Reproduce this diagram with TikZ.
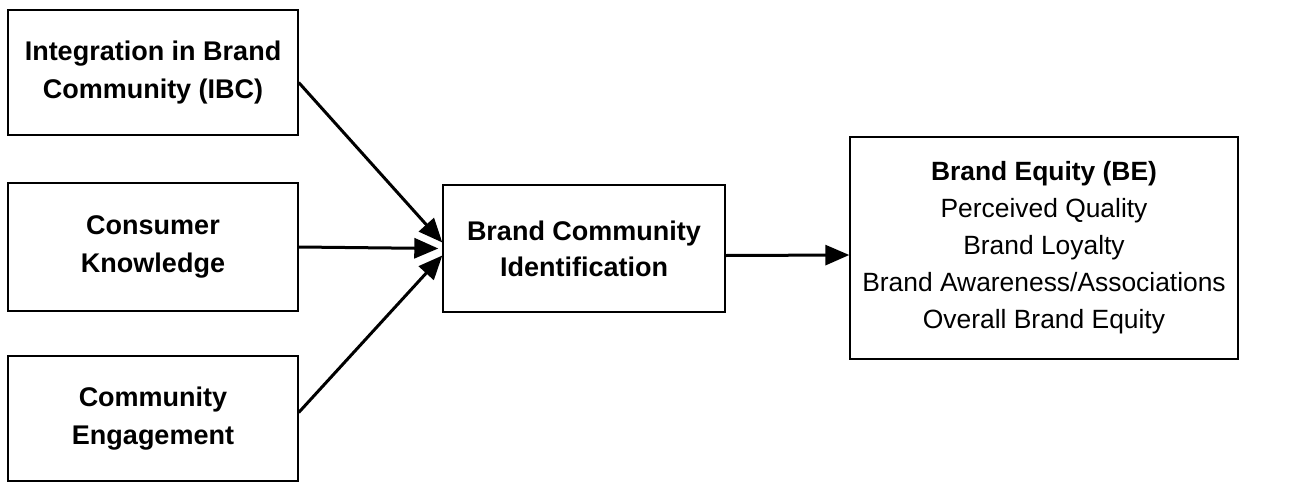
\documentclass[tikz,border=0pt]{standalone}
\usepackage{fontspec}
\setmainfont{Liberation Sans}
\usetikzlibrary{arrows.meta, positioning}

\begin{document}
\begin{tikzpicture}[x=0.5pt, y=-0.5pt, >={Triangle[length=12pt, width=10pt]},
	factor/.style={draw, line width=0.7pt, minimum width=145pt,
		minimum height=62.5pt, align=center, inner sep=0pt,
		font=\fontsize{13.5}{19}\selectfont\bfseries},
	link/.style={->, line width=1.5pt}]
	\useasboundingbox (0,0) rectangle (1295,482);
	% antecedents on the left
	\node[factor] (ibc) at (153,72.5)
	{Integration in Brand\\Community (IBC)};
	\node[factor, minimum height=64pt] (ck) at (153,247)
	{Consumer\\Knowledge};
	\node[factor] (ce) at (153,418.5)
	{Community\\Engagement};
	% mediator
	\node[factor, minimum width=141pt, minimum height=63.5pt,
	font=\fontsize{13.5}{18}\selectfont\bfseries] (bci) at (584,248.5)
	{Brand Community\\Identification};
	% outcome with its dimensions
	\node[draw, line width=0.7pt, minimum width=194pt, minimum height=111pt,
	align=center, inner sep=0pt, font=\fontsize{13.2}{18.5}\selectfont]
	(be) at (1044,248)
	{\textbf{Brand Equity (BE)}\\Perceived Quality\\Brand Loyalty\\
		Brand Awareness/Associations\\Overall Brand Equity};
	% paths into the mediator
	\draw[link] ([yshift=-5pt]ibc.east) -- ([yshift=3pt]bci.west);
	\draw[link] (ck.east) -- ([xshift=-2pt]bci.west);
	\draw[link] ([yshift=3pt]ce.east) -- ([yshift=-3.5pt]bci.west);
	% path to the outcome
	\draw[link] ([yshift=-3.5pt]bci.east) -- ([yshift=-3.5pt]be.west);
\end{tikzpicture}
\end{document}
